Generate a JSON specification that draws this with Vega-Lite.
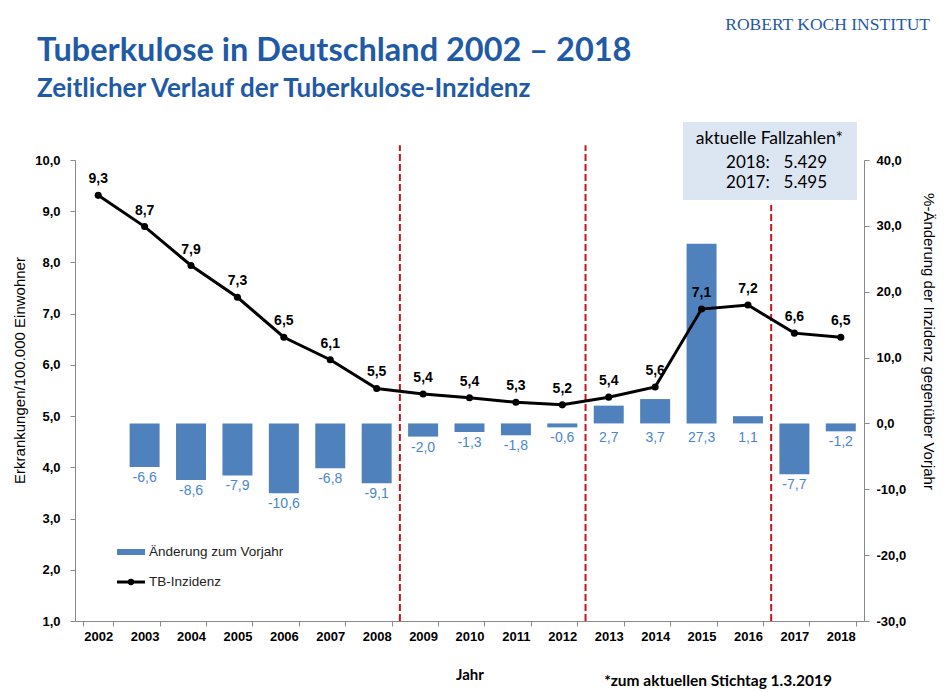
{
  "$schema": "https://vega.github.io/schema/vega-lite/v6.json",
  "width": 789,
  "height": 461,
  "autosize": {"type": "none"},
  "padding": {"left": 75, "top": 160, "right": 86, "bottom": 71},
  "background": "white",
  "config": {
    "locale": {"number": {"decimal": ",", "thousands": ".", "grouping": [3], "currency": ["", " €"], "minus": "-"}},
    "view": {"stroke": null},
    "font": "Liberation Sans",
    "axis": {"domainColor": "#898989", "tickColor": "#898989", "labelFont": "Liberation Sans", "labelFontWeight": "bold", "labelFontSize": 13, "labelColor": "#000000", "titleColor": "#000000", "titleFont": "Liberation Sans", "grid": false}
  },
  "datasets": {
    "tb": [
      {"jahr": "2002", "inz": 9.31, "chg": null},
      {"jahr": "2003", "inz": 8.70, "chg": -6.6},
      {"jahr": "2004", "inz": 7.94, "chg": -8.6},
      {"jahr": "2005", "inz": 7.32, "chg": -7.9},
      {"jahr": "2006", "inz": 6.54, "chg": -10.6},
      {"jahr": "2007", "inz": 6.10, "chg": -6.8},
      {"jahr": "2008", "inz": 5.54, "chg": -9.1},
      {"jahr": "2009", "inz": 5.43, "chg": -2.0},
      {"jahr": "2010", "inz": 5.36, "chg": -1.3},
      {"jahr": "2011", "inz": 5.27, "chg": -1.8},
      {"jahr": "2012", "inz": 5.22, "chg": -0.6},
      {"jahr": "2013", "inz": 5.37, "chg": 2.7},
      {"jahr": "2014", "inz": 5.57, "chg": 3.7},
      {"jahr": "2015", "inz": 7.09, "chg": 27.3},
      {"jahr": "2016", "inz": 7.17, "chg": 1.1},
      {"jahr": "2017", "inz": 6.62, "chg": -7.7},
      {"jahr": "2018", "inz": 6.54, "chg": -1.2}
    ]
  },
  "layer": [
    {
      "data": {"name": "tb"},
      "encoding": {
        "x": {"field": "jahr", "type": "ordinal",
          "scale": {"type": "band", "domain": ["2002","2003","2004","2005","2006","2007","2008","2009","2010","2011","2012","2013","2014","2015","2016","2017","2018"], "paddingInner": 0.354, "paddingOuter": 0.177},
          "axis": {"title": "Jahr", "labelAngle": 0, "tickBand": "extent", "tickSize": 5, "labelPadding": 4, "titleFont": "Lato", "titleFontSize": 15, "titleFontWeight": "bold", "titlePadding": 24}},
        "y": {"field": "chg", "type": "quantitative",
          "scale": {"domain": [-30, 40], "nice": false, "zero": false},
          "axis": {"orient": "right", "values": [-30, -20, -10, 0, 10, 20, 30, 40], "format": ".1f", "tickSize": 5, "labelPadding": 7, "title": "%-Änderung der Inzidenz gegenüber Vorjahr", "titleFontSize": 15, "titleFontWeight": "normal", "titleX": 64, "titleY": 181, "titleBaseline": "middle", "titleAngle": 90}}
      },
      "layer": [
        {"mark": {"type": "bar", "color": "#4f81bd"}},
        {"transform": [{"filter": "datum.chg != null && datum.chg < 0"}],
          "mark": {"type": "text", "baseline": "top", "dy": 4, "fontSize": 14, "color": "#4a86d0"},
          "encoding": {"text": {"field": "chg", "type": "quantitative", "format": ".1f"}}},
        {"transform": [{"filter": "datum.chg != null && datum.chg >= 0"}],
          "mark": {"type": "text", "baseline": "top", "dy": 8, "fontSize": 14, "color": "#4a86d0"},
          "encoding": {"y": {"datum": 0}, "text": {"field": "chg", "type": "quantitative", "format": ".1f"}}}
      ]
    },
    {
      "data": {"values": [{}]},
      "layer": [
        {"mark": {"type": "rule", "color": "#c8141b", "strokeWidth": 2, "strokeDash": [7, 3]},
          "encoding": {
            "x": {"datum": 7, "type": "quantitative", "scale": {"domain": [0, 17], "nice": false, "zero": false}, "axis": null},
            "y": {"datum": 1, "type": "quantitative", "scale": {"domain": [1, 10], "nice": false, "zero": false}, "axis": null},
            "y2": {"datum": 10.29}}},
        {"mark": {"type": "rule", "color": "#c8141b", "strokeWidth": 2, "strokeDash": [7, 3]},
          "encoding": {
            "x": {"datum": 11, "type": "quantitative", "scale": {"domain": [0, 17], "nice": false, "zero": false}, "axis": null},
            "y": {"datum": 1, "type": "quantitative", "scale": {"domain": [1, 10], "nice": false, "zero": false}, "axis": null},
            "y2": {"datum": 10.29}}},
        {"mark": {"type": "rule", "color": "#c8141b", "strokeWidth": 2, "strokeDash": [7, 3]},
          "encoding": {
            "x": {"datum": 15, "type": "quantitative", "scale": {"domain": [0, 17], "nice": false, "zero": false}, "axis": null},
            "y": {"datum": 1, "type": "quantitative", "scale": {"domain": [1, 10], "nice": false, "zero": false}, "axis": null},
            "y2": {"datum": 9.12}}},
        {"mark": {"type": "rect", "color": "#dce6f2"},
          "encoding": {
            "x": {"datum": 13.1, "type": "quantitative", "scale": {"domain": [0, 17], "nice": false, "zero": false}, "axis": null},
            "x2": {"datum": 16.849},
            "y": {"datum": 10.742, "type": "quantitative", "scale": {"domain": [1, 10], "nice": false, "zero": false}, "axis": null},
            "y2": {"datum": 9.219}}},
        {"mark": {"type": "text", "text": "aktuelle Fallzahlen*", "align": "center", "baseline": "middle", "font": "Lato", "fontSize": 17.5, "color": "#000000"},
          "encoding": {
            "x": {"datum": 14.96, "type": "quantitative", "scale": {"domain": [0, 17], "nice": false, "zero": false}, "axis": null},
            "y": {"datum": 10.402, "type": "quantitative", "scale": {"domain": [1, 10], "nice": false, "zero": false}, "axis": null}}},
        {"mark": {"type": "text", "text": "2018:", "align": "left", "baseline": "middle", "font": "Lato", "fontSize": 17, "color": "#000000"},
          "encoding": {
            "x": {"datum": 14.027, "type": "quantitative", "scale": {"domain": [0, 17], "nice": false, "zero": false}, "axis": null},
            "y": {"datum": 9.951, "type": "quantitative", "scale": {"domain": [1, 10], "nice": false, "zero": false}, "axis": null}}},
        {"mark": {"type": "text", "text": "5.429", "align": "right", "baseline": "middle", "font": "Lato", "fontSize": 17, "color": "#000000"},
          "encoding": {
            "x": {"datum": 16.203, "type": "quantitative", "scale": {"domain": [0, 17], "nice": false, "zero": false}, "axis": null},
            "y": {"datum": 9.951, "type": "quantitative", "scale": {"domain": [1, 10], "nice": false, "zero": false}, "axis": null}}},
        {"mark": {"type": "text", "text": "2017:", "align": "left", "baseline": "middle", "font": "Lato", "fontSize": 17, "color": "#000000"},
          "encoding": {
            "x": {"datum": 14.027, "type": "quantitative", "scale": {"domain": [0, 17], "nice": false, "zero": false}, "axis": null},
            "y": {"datum": 9.553, "type": "quantitative", "scale": {"domain": [1, 10], "nice": false, "zero": false}, "axis": null}}},
        {"mark": {"type": "text", "text": "5.495", "align": "right", "baseline": "middle", "font": "Lato", "fontSize": 17, "color": "#000000"},
          "encoding": {
            "x": {"datum": 16.203, "type": "quantitative", "scale": {"domain": [0, 17], "nice": false, "zero": false}, "axis": null},
            "y": {"datum": 9.553, "type": "quantitative", "scale": {"domain": [1, 10], "nice": false, "zero": false}, "axis": null}}},
        {"mark": {"type": "text", "text": "Tuberkulose in Deutschland 2002 – 2018", "align": "left", "baseline": "alphabetic", "font": "Lato", "fontSize": 32.5, "fontWeight": "bold", "color": "#1f5aa6"},
          "encoding": {
            "x": {"datum": -0.819, "type": "quantitative", "scale": {"domain": [0, 17], "nice": false, "zero": false}, "axis": null},
            "y": {"datum": 11.933, "type": "quantitative", "scale": {"domain": [1, 10], "nice": false, "zero": false}, "axis": null}}},
        {"mark": {"type": "text", "text": "Zeitlicher Verlauf der Tuberkulose-Inzidenz", "align": "left", "baseline": "alphabetic", "font": "Lato", "fontSize": 26, "fontWeight": "bold", "color": "#1f5aa6"},
          "encoding": {
            "x": {"datum": -0.819, "type": "quantitative", "scale": {"domain": [0, 17], "nice": false, "zero": false}, "axis": null},
            "y": {"datum": 11.23, "type": "quantitative", "scale": {"domain": [1, 10], "nice": false, "zero": false}, "axis": null}}},
        {"mark": {"type": "text", "text": "ROBERT KOCH INSTITUT", "align": "right", "baseline": "middle", "font": "Liberation Serif", "fontSize": 17.5, "color": "#1f5aa6"},
          "encoding": {
            "x": {"datum": 18.422, "type": "quantitative", "scale": {"domain": [0, 17], "nice": false, "zero": false}, "axis": null},
            "y": {"datum": 12.626, "type": "quantitative", "scale": {"domain": [1, 10], "nice": false, "zero": false}, "axis": null}}},
        {"mark": {"type": "text", "text": "*zum aktuellen Stichtag 1.3.2019", "align": "center", "baseline": "middle", "font": "Lato", "fontSize": 15.5, "fontWeight": "bold", "color": "#000000"},
          "encoding": {
            "x": {"datum": 13.855, "type": "quantitative", "scale": {"domain": [0, 17], "nice": false, "zero": false}, "axis": null},
            "y": {"datum": -0.171, "type": "quantitative", "scale": {"domain": [1, 10], "nice": false, "zero": false}, "axis": null}}},
        {"mark": {"type": "rect", "color": "#4f81bd"},
          "encoding": {
            "x": {"datum": 0.905, "type": "quantitative", "scale": {"domain": [0, 17], "nice": false, "zero": false}, "axis": null},
            "x2": {"datum": 1.508},
            "y": {"datum": 2.406, "type": "quantitative", "scale": {"domain": [1, 10], "nice": false, "zero": false}, "axis": null},
            "y2": {"datum": 2.289}}},
        {"mark": {"type": "rule", "color": "#000000", "strokeWidth": 3},
          "encoding": {
            "x": {"datum": 0.905, "type": "quantitative", "scale": {"domain": [0, 17], "nice": false, "zero": false}, "axis": null},
            "x2": {"datum": 1.508},
            "y": {"datum": 1.761, "type": "quantitative", "scale": {"domain": [1, 10], "nice": false, "zero": false}, "axis": null}}},
        {"mark": {"type": "point", "filled": true, "color": "#000000", "size": 40, "opacity": 1},
          "encoding": {
            "x": {"datum": 1.207, "type": "quantitative", "scale": {"domain": [0, 17], "nice": false, "zero": false}, "axis": null},
            "y": {"datum": 1.761, "type": "quantitative", "scale": {"domain": [1, 10], "nice": false, "zero": false}, "axis": null}}},
        {"mark": {"type": "text", "text": "Änderung zum Vorjahr", "align": "left", "baseline": "middle", "fontSize": 13.5, "color": "#222222"},
          "encoding": {
            "x": {"datum": 1.594, "type": "quantitative", "scale": {"domain": [0, 17], "nice": false, "zero": false}, "axis": null},
            "y": {"datum": 2.347, "type": "quantitative", "scale": {"domain": [1, 10], "nice": false, "zero": false}, "axis": null}}},
        {"mark": {"type": "text", "text": "TB-Inzidenz", "align": "left", "baseline": "middle", "fontSize": 13.5, "color": "#222222"},
          "encoding": {
            "x": {"datum": 1.594, "type": "quantitative", "scale": {"domain": [0, 17], "nice": false, "zero": false}, "axis": null},
            "y": {"datum": 1.761, "type": "quantitative", "scale": {"domain": [1, 10], "nice": false, "zero": false}, "axis": null}}}
      ]
    },
    {
      "data": {"name": "tb"},
      "encoding": {
        "x": {"field": "jahr", "type": "ordinal",
          "scale": {"type": "band", "domain": ["2002","2003","2004","2005","2006","2007","2008","2009","2010","2011","2012","2013","2014","2015","2016","2017","2018"], "paddingInner": 0, "paddingOuter": 0},
          "axis": null},
        "y": {"field": "inz", "type": "quantitative",
          "scale": {"domain": [1, 10], "nice": false, "zero": false},
          "axis": {"orient": "left", "values": [1, 2, 3, 4, 5, 6, 7, 8, 9, 10], "format": ".1f", "tickSize": 5, "labelPadding": 10, "title": "Erkrankungen/100.000 Einwohner", "titleFontSize": 15, "titleFontWeight": "normal", "titleX": -56, "titleY": 210, "titleBaseline": "middle", "titleAngle": -90}}
      },
      "layer": [
        {"mark": {"type": "line", "color": "#000000", "strokeWidth": 3}},
        {"mark": {"type": "point", "filled": true, "color": "#000000", "size": 50, "opacity": 1}},
        {"mark": {"type": "text", "baseline": "bottom", "dy": -9, "fontSize": 14, "fontWeight": "bold", "color": "#000000"},
          "encoding": {"text": {"field": "inz", "type": "quantitative", "format": ".1f"}}}
      ]
    }
  ],
  "resolve": {"scale": {"x": "independent", "y": "independent"}, "axis": {"x": "independent", "y": "independent"}}
}
